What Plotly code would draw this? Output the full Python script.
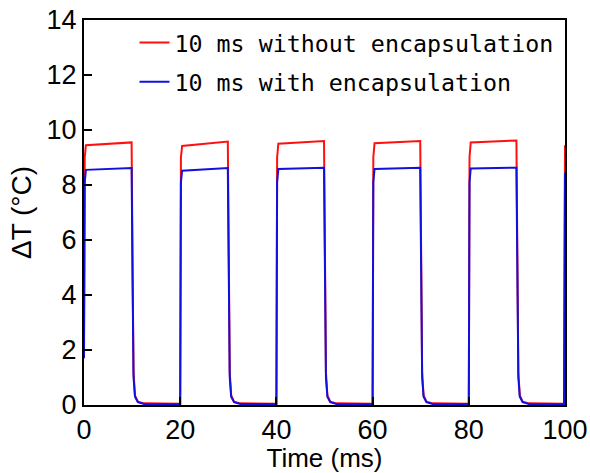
import plotly.graph_objects as go

time_ms = [
    0, 0.15, 0.4, 9.9, 10.1, 10.3, 10.6, 11.2, 12.5,
    20, 20.15, 20.4, 29.9, 30.1, 30.3, 30.6, 31.2, 32.5,
    40, 40.15, 40.4, 49.9, 50.1, 50.3, 50.6, 51.2, 52.5,
    60, 60.15, 60.4, 69.9, 70.1, 70.3, 70.6, 71.2, 72.5,
    80, 80.15, 80.4, 89.9, 90.1, 90.3, 90.6, 91.2, 92.5,
    99.8, 100,
]
dt_without = [
    2.6, 9.0, 9.45, 9.55, 5.0, 1.2, 0.35, 0.12, 0.06,
    0.05, 9.0, 9.42, 9.58, 5.0, 1.2, 0.35, 0.12, 0.06,
    0.05, 9.0, 9.50, 9.60, 5.0, 1.2, 0.35, 0.12, 0.06,
    0.05, 9.0, 9.52, 9.60, 5.0, 1.2, 0.35, 0.12, 0.06,
    0.05, 9.0, 9.55, 9.62, 5.0, 1.2, 0.35, 0.12, 0.06,
    0.05, 9.45,
]
dt_with = [
    1.7, 8.1, 8.55, 8.62, 4.5, 1.0, 0.30, 0.10, 0.04,
    0.03, 8.1, 8.52, 8.62, 4.5, 1.0, 0.30, 0.10, 0.04,
    0.03, 8.1, 8.58, 8.63, 4.5, 1.0, 0.30, 0.10, 0.04,
    0.03, 8.1, 8.58, 8.63, 4.5, 1.0, 0.30, 0.10, 0.04,
    0.03, 8.1, 8.60, 8.63, 4.5, 1.0, 0.30, 0.10, 0.04,
    0.03, 8.45,
]
series_names = ["10 ms without encapsulation", "10 ms with encapsulation"]
x_ticks = [0, 20, 40, 60, 80, 100]
y_ticks = [0, 2, 4, 6, 8, 10, 12, 14]

fig = go.Figure()
fig.add_trace(go.Scatter(x=time_ms, y=dt_without, mode="lines", name=series_names[0],
                         legendgroup="a", line=dict(color="#ff1010", width=2)))
fig.add_trace(go.Scatter(x=time_ms, y=dt_with, mode="lines", name=series_names[1],
                         legendgroup="b", line=dict(color="#1010e0", width=2)))

sans = "Liberation Sans, Arial"
axis_font = dict(family=sans, size=27, color="black")
fig.update_layout(
    width=590, height=473,
    margin=dict(l=84, r=25, t=20, b=68),
    paper_bgcolor="white", plot_bgcolor="white",
    showlegend=True,
    legend=dict(x=0.105, y=0.998, xanchor="left", yanchor="top", itemwidth=30,
                bgcolor="rgba(0,0,0,0)", font=dict(family="DejaVu Sans Mono", size=23.3, color="black"),
                tracegroupgap=6),
    xaxis=dict(range=[0, 100], tickvals=x_ticks, ticks="inside", ticklen=8, tickwidth=2,
               tickcolor="black", showline=True, linecolor="black", linewidth=2, mirror=True,
               showgrid=False, zeroline=False, tickfont=axis_font, automargin=False,
               title=dict(text="Time (ms)", font=dict(family=sans, size=26, color="black"), standoff=0)),
    yaxis=dict(range=[0, 14], tickvals=y_ticks, ticks="inside", ticklen=8, tickwidth=2,
               tickcolor="black", showline=True, linecolor="black", linewidth=2, mirror=True,
               showgrid=False, zeroline=False, tickfont=axis_font, automargin=False,
               title=dict(text="ΔT (°C)", font=dict(family=sans, size=28, color="black"), standoff=7)),
)
fig.write_html("out.html")
